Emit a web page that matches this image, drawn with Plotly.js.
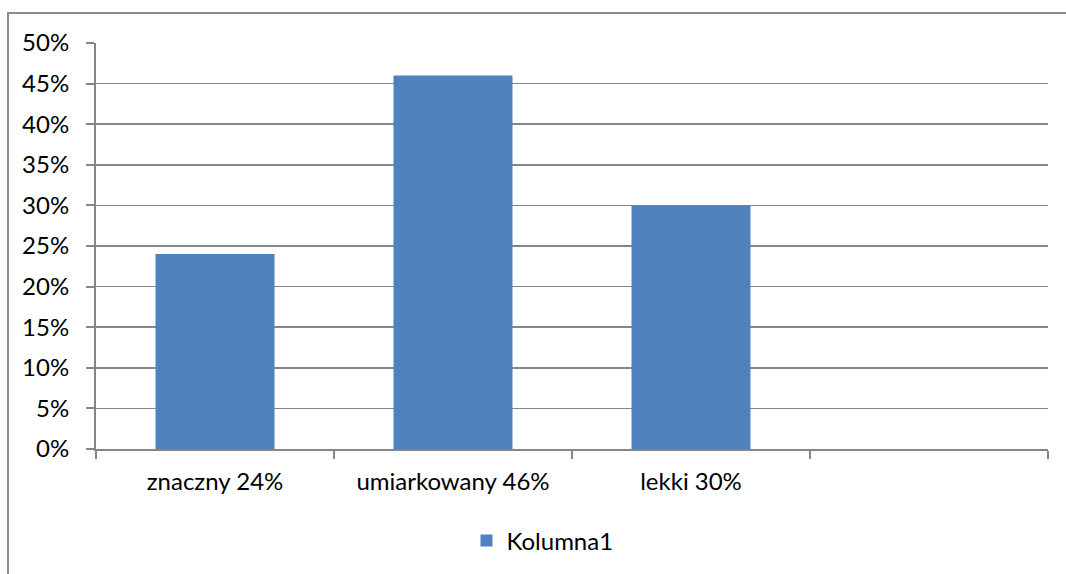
<!DOCTYPE html>
<html>
<head>
<meta charset="utf-8">
<script src="https://cdn.plot.ly/plotly-3.0.1.min.js"></script>
<style>
  html, body { margin: 0; padding: 0; background: #fff; }
  #wrap { position: relative; width: 1066px; height: 574px; overflow: hidden; }
  #chart { position: absolute; left: 0; top: 0; width: 1066px; height: 574px; }
  #frame { position: absolute; left: 7px; top: 12px; width: 1100px; height: 600px;
           border-left: 2px solid #8c8c8c; border-top: 2px solid #8c8c8c; pointer-events: none; }
</style>
</head>
<body>
<div id="wrap">
  <div id="chart"></div>
  <div id="frame"></div>
</div>
<script>
const categories = ['znaczny 24%', 'umiarkowany 46%', 'lekki 30%', ' '];
const values = [0.24, 0.46, 0.30, null];
const seriesName = 'Kolumna1';

const font = { family: 'Lato, "Open Sans", sans-serif', size: 24, color: '#000000' };
const gray = '#868686';

const data = [{
  type: 'bar',
  x: categories,
  y: values,
  name: seriesName,
  marker: { color: '#4F81BD', line: { width: 0 } },
  hoverinfo: 'x+y'
}];

const layout = {
  width: 1066,
  height: 574,
  margin: { l: 96, r: 18, t: 43, b: 124 },
  paper_bgcolor: '#ffffff',
  plot_bgcolor: '#ffffff',
  font: font,
  bargap: 0.5,
  showlegend: true,
  legend: {
    orientation: 'h',
    x: 0.469, xanchor: 'center',
    y: -0.2236, yanchor: 'middle',
    font: font,
    bgcolor: 'rgba(0,0,0,0)'
  },
  xaxis: {
    type: 'category',
    categoryorder: 'array',
    categoryarray: categories,
    tickson: 'boundaries',
    ticks: 'outside',
    ticklen: 8,
    tickcolor: gray,
    tickwidth: 2,
    showline: true,
    linecolor: gray,
    linewidth: 2,
    showgrid: false,
    zeroline: false,
    ticklabelstandoff: 10,
    tickfont: font,
    fixedrange: true
  },
  yaxis: {
    range: [0, 0.5],
    dtick: 0.05,
    tick0: 0,
    tickformat: '.0%',
    ticks: 'outside',
    ticklen: 8,
    tickcolor: gray,
    tickwidth: 2,
    showline: true,
    linecolor: gray,
    linewidth: 2,
    showgrid: true,
    gridcolor: gray,
    gridwidth: 1.5,
    zeroline: false,
    ticklabelstandoff: 12,
    tickfont: font,
    fixedrange: true
  }
};

Plotly.newPlot('chart', data, layout, { displayModeBar: false, staticPlot: true });
</script>
</body>
</html>
